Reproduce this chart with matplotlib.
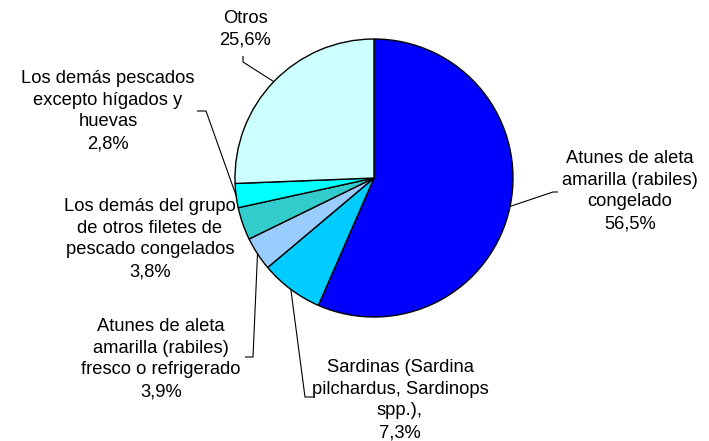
import numpy as np
import matplotlib.pyplot as plt

# data, clockwise from 12 o'clock
labels = [
    'Atunes de aleta\namarilla (rabiles)\ncongelado\n56,5%',
    'Sardinas (Sardina\npilchardus, Sardinops\nspp.),\n7,3%',
    'Atunes de aleta\namarilla (rabiles)\nfresco o refrigerado\n3,9%',
    'Los demás del grupo\nde otros filetes de\npescado congelados\n3,8%',
    'Los demás pescados\nexcepto hígados y\nhuevas\n2,8%',
    'Otros\n25,6%',
]
shares = [56.5, 7.3, 3.9, 3.8, 2.8, 25.6]
colors = ['#0000FF', '#00CCFF', '#99CCFF', '#33CCCC', '#00FFFF', '#CCFFFF']

W, H = 709, 441


def px(x, y):
    # pixel position (origin top-left) -> data coords
    return x, H - y


# label text centres and leader line bends, in pixels
text_pos = [(630, 191), (400, 400), (161, 359), (150, 239), (108, 111), (245, 29)]
leader_pts = [
    [(553, 192), (558, 192)],
    [(305, 397), (313, 397)],
    [(253, 357), (245, 357)],
    None,
    [(206, 111), (197, 111)],
    [(243, 62), (243, 56)],
]

plt.rcParams['font.family'] = ['Liberation Sans', 'DejaVu Sans']

fig = plt.figure(figsize=(W / 100, H / 100), dpi=100)
ax = fig.add_axes([0, 0, 1, 1])

cx, cy = px(374, 178)
r = 139
wedges, _ = ax.pie(shares, colors=colors, startangle=90, counterclock=False,
                   center=(cx, cy), radius=r,
                   wedgeprops=dict(edgecolor='black', linewidth=1))

for w, lab, tp, lp in zip(wedges, labels, text_pos, leader_pts):
    ang = np.deg2rad((w.theta1 + w.theta2) / 2)
    ex, ey = cx + r * np.cos(ang), cy + r * np.sin(ang)
    if lp is not None:
        xs = [ex] + [p[0] for p in lp]
        ys = [ey] + [H - p[1] for p in lp]
        ax.plot(xs, ys, color='black', lw=0.8, solid_capstyle='butt')
    tx, ty = px(*tp)
    ax.text(tx, ty, lab, ha='center', va='center', fontsize=13.2,
            linespacing=1.38, multialignment='center')

ax.set_xlim(0, W)
ax.set_ylim(0, H)
ax.set_aspect('equal')
ax.axis('off')

fig.savefig('out.png', dpi=100)
